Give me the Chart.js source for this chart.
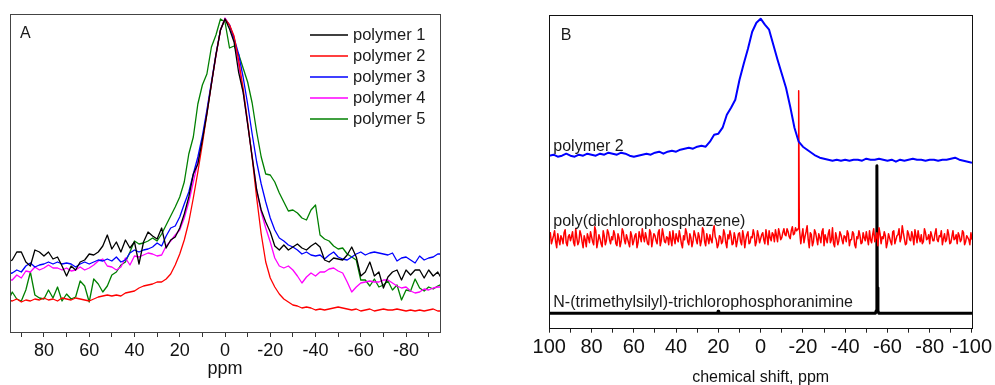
<!DOCTYPE html>
<html>
<head>
<meta charset="utf-8">
<script src="https://cdn.jsdelivr.net/npm/chart.js@4"></script>
<style>
  html, body { margin: 0; padding: 0; background: #fff; overflow: hidden; }
  body { width: 995px; height: 385px; position: relative; }
  #chartA { position: absolute; left: 0; top: 0; }
  #chartB { position: absolute; left: 520px; top: 0; }
</style>
</head>
<body>
<canvas id="chartA" width="460" height="385"></canvas>
<canvas id="chartB" width="475" height="395"></canvas>
<script>
// ---- panel A : 31P spectra of the five polymers (intensity) ----
const ppmA = [96, 94, 92, 90, 88, 86, 84, 82, 80, 78, 76, 74, 72, 70, 68, 66, 64, 62, 60, 58,
  56, 54, 52, 50, 48, 46, 44, 42, 40, 38, 36, 34, 32, 30, 28, 26, 24, 22, 20, 18,
  16, 14, 12, 10, 8, 6, 4, 2, 0, -2, -4, -6, -8, -10, -12, -14, -16, -18, -20, -22,
  -24, -26, -28, -30, -32, -34, -36, -38, -40, -42, -44, -46, -48, -50, -52, -54, -56, -58, -60, -62,
  -64, -66, -68, -70, -72, -74, -76, -78, -80, -82, -84, -86, -88, -90, -92, -94, -96]

const polymer1 = [70, 72, 80, 80, 70, 66, 82, 80, 76, 80, 73, 75, 66, 56, 66, 62, 70, 72, 78, 77,
  80, 86, 97, 83, 90, 80, 92, 84, 90, 68, 90, 100, 96, 93, 104, 84, 92, 95, 104, 118,
  135, 158, 168, 192, 218, 248, 277, 302, 313, 303, 290, 260, 240, 208, 175, 142, 122, 110, 100, 86,
  82, 87, 82, 85, 88, 84, 82, 86, 89, 85, 72, 70, 74, 73, 72, 77, 85, 75, 56, 60,
  70, 56, 60, 44, 55, 60, 62, 52, 62, 57, 62, 62, 54, 62, 56, 60, 52]

const polymer2 = [32, 31, 33, 30, 32, 31, 33, 32, 34, 32, 33, 31, 34, 33, 32, 34, 33, 32, 31, 33,
  35, 36, 37, 36, 37, 36, 39, 40, 41, 44, 46, 47, 48, 50, 50, 53, 58, 67, 78, 92,
  110, 134, 160, 188, 218, 248, 277, 302, 313, 307, 296, 272, 244, 210, 174, 134, 98, 70, 54, 45,
  38, 33, 30, 27, 26, 24, 25, 24, 22, 23, 22, 23, 24, 25, 24, 23, 22, 23, 21, 22,
  23, 21, 22, 23, 22, 22, 23, 22, 21, 22, 21, 22, 21, 22, 23, 21, 21]

const polymer3 = [58, 59, 62, 60, 66, 69, 65, 67, 68, 70, 68, 70, 68, 69, 68, 65, 68, 70, 68, 70,
  72, 71, 73, 71, 75, 70, 72, 79, 82, 80, 82, 83, 85, 89, 86, 96, 104, 106, 115, 128,
  140, 158, 175, 196, 222, 250, 278, 302, 313, 307, 294, 278, 255, 228, 198, 170, 148, 130, 114, 102,
  94, 91, 87, 85, 82, 78, 80, 77, 76, 77, 73, 77, 80, 75, 73, 72, 75, 78, 80, 77,
  79, 80, 79, 78, 77, 79, 71, 74, 75, 72, 69, 76, 72, 74, 75, 78, 78]

const polymer4 = [52, 52, 57, 54, 61, 60, 65, 62, 64, 67, 64, 64, 62, 64, 61, 62, 65, 62, 64, 67,
  71, 73, 66, 65, 62, 65, 74, 67, 76, 75, 77, 79, 78, 76, 77, 86, 91, 97, 102, 114,
  130, 150, 170, 192, 220, 248, 276, 302, 314, 307, 292, 268, 240, 208, 176, 142, 120, 104, 90, 74,
  66, 64, 66, 62, 56, 49, 55, 59, 56, 60, 60, 63, 64, 61, 59, 50, 40, 45, 49, 50,
  51, 50, 50, 52, 52, 49, 46, 44, 45, 41, 39, 40, 43, 42, 44, 45, 45]

const polymer5 = [30, 40, 33, 31, 42, 60, 37, 34, 33, 42, 34, 45, 31, 38, 33, 35, 51, 46, 30, 53,
  48, 40, 46, 57, 60, 67, 70, 80, 91, 88, 89, 91, 94, 91, 98, 107, 116, 125, 135, 150,
  178, 195, 228, 247, 258, 285, 297, 313, 310, 284, 286, 278, 264, 250, 229, 200, 175, 158, 157, 150,
  139, 130, 121, 122, 119, 114, 112, 122, 127, 97, 93, 91, 86, 83, 84, 78, 75, 72, 52, 52,
  46, 53, 45, 47, 51, 42, 47, 32, 42, 41, 53, 44, 41, 45, 43, 46, 48]

const namesA = ['polymer 1', 'polymer 2', 'polymer 3', 'polymer 4', 'polymer 5']
const colorsA = ['#000000', '#ff0000', '#0000ff', '#ff00ff', '#008000']
const valuesA = [polymer1, polymer2, polymer3, polymer4, polymer5]
const ticksA = [90, 80, 70, 60, 50, 40, 30, 20, 10, 0, -10, -20, -30, -40, -50, -60, -70, -80, -90]

// ---- panel B : reference compounds ----
// polymer 2, every 2 ppm from 100 to -100
const polymer2B = [172, 173, 171, 172, 174, 172, 171, 173, 172, 174, 173, 172, 174, 173, 175, 174, 173, 175, 174, 172,
  171, 172, 173, 174, 173, 175, 176, 174, 176, 177, 176, 178, 179, 180, 179, 181, 182, 181, 186, 193,
  194, 200, 213, 220, 228, 248, 264, 279, 296, 305, 309, 303, 298, 283, 268, 254, 240, 221, 200, 186,
  181, 178, 175, 172, 170, 169, 168, 167, 168, 167, 168, 167, 168, 168, 167, 169, 168, 168, 169, 168,
  167, 168, 166, 168, 167, 168, 169, 168, 168, 167, 168, 168, 167, 168, 168, 169, 170, 168, 167, 166,
  165]
// poly(dichlorophosphazene), whole ppm from 100 to -100
const pdcpB = [90, 84, 92, 86, 94, 83, 89, 95, 85, 91,
  87, 96, 82, 90, 86, 93, 80, 88, 94, 85,
  91, 83, 97, 86, 89, 81, 92, 87, 95, 84,
  88, 93, 82, 90, 86, 96, 84, 89, 81, 92,
  87, 94, 85, 91, 99, 86, 90, 83, 95, 88,
  92, 84, 98, 87, 93, 85, 90, 96, 82, 89,
  94, 86, 91, 80, 88, 95, 83, 90, 86, 93,
  84, 91, 87, 97, 82, 89, 93, 85, 102, 88,
  83, 91, 86, 94, 80, 89, 92, 84, 90, 87,
  95, 83, 91, 88, 96, 85, 90, 93, 86, 92,
  89, 95, 84, 91, 97, 87, 93, 98, 86, 94,
  90, 99, 92, 96, 89, 101, 94, 97, 96, 84,
  99, 91, 102, 80, 93, 86, 95, 83, 90, 96,
  82, 89, 94, 85, 100, 81, 90, 87, 93, 84,
  91, 97, 82, 88, 94, 80, 89, 92, 85, 90,
  96, 83, 88, 93, 86, 95, 100, 84, 89, 92,
  85, 90, 83, 97, 88, 93, 86, 102, 89, 84,
  94, 87, 91, 98, 85, 90, 93, 86, 95, 89,
  84, 92, 87, 99, 86, 91, 83, 94, 88, 93,
  85, 97, 89, 84, 92, 88, 95, 86, 90, 83,
  88]
// poly(dichlorophosphazene), half ppm from 99.5 to -99.5
const pdcpHalfB = [95, 88, 97, 80, 88, 92, 84, 98, 82, 93,
  91, 85, 99, 83, 97, 86, 92, 81, 90, 96,
  86, 101, 80, 93, 84, 97, 83, 98, 88, 91,
  97, 84, 94, 81, 99, 88, 93, 85, 96, 83,
  92, 80, 96, 86, 91, 95, 84, 98, 81, 94,
  87, 95, 82, 99, 86, 91, 83, 88, 97, 84,
  89, 97, 84, 92, 99, 86, 94, 81, 97, 88,
  95, 82, 100, 86, 94, 84, 88, 97, 91, 80,
  92, 84, 98, 85, 93, 97, 83, 95, 81, 94,
  86, 97, 80, 93, 84, 91, 98, 82, 97, 85,
  93, 88, 98, 83, 90, 95, 86, 92, 99, 88,
  95, 93, 99, 91, 97, 93, 100, 95, 88, 92,
  85, 96, 88, 95, 82, 98, 89, 94, 85, 99,
  93, 85, 98, 88, 84, 95, 83, 96, 88, 92,
  86, 94, 88, 96, 83, 91, 97, 84, 95, 87,
  89, 97, 85, 99, 90, 82, 94, 91, 96, 80,
  94, 86, 96, 84, 92, 99, 90, 95, 83, 97,
  88, 96, 83, 92, 97, 86, 84, 99, 88, 93,
  96, 87, 94, 88, 92, 97, 89, 86, 98, 84,
  91, 88, 93, 95, 86, 97, 83, 92, 88, 95]
const pdcpPeakPpm = [-17.7, -17.95, -18.05, -18.3]
const pdcpPeakVal = [99, 237, 237, 100]
// N-(trimethylsilyl)-trichlorophosphoranimine
const silylPpm = [100, 20.4, 20.1, 19.8, -54.3, -54.7, -54.95, -55.05, -55.2, -55.5, -55.9, -100]
const silylVal = [14.4, 14.4, 16.5, 14.4, 14.4, 17, 40, 162, 40, 17, 14.4, 14.4]
const ticksB = [100, 90, 80, 70, 60, 50, 40, 30, 20, 10, 0, -10, -20, -30, -40, -50, -60, -70, -80, -90, -100]

const FONT = "'Liberation Sans', Arial, sans-serif"

// caja alrededor del area y textos sueltos
const framePlugin = {
  id: 'frame',
  afterDraw(chart, args, opts) {
    const {ctx, chartArea: a} = chart
    ctx.save()
    ctx.strokeStyle = opts.color
    ctx.lineWidth = 1
    ctx.strokeRect(Math.round(a.left) + 0.5, Math.round(a.top) + 0.5, Math.round(a.right - a.left), Math.round(a.bottom - a.top))
    ctx.fillStyle = '#1a1a1a'
    opts.texts.forEach(t => {
      ctx.font = t.font
      ctx.textBaseline = t.baseline
      ctx.fillText(t.text, t.x, t.y)
    })
    if (opts.legend) {
      opts.legend.names.forEach((name, i) => {
        const y = opts.legend.y0 + i * opts.legend.dy
        ctx.strokeStyle = opts.legend.colors[i]
        ctx.lineWidth = 1.3
        ctx.beginPath()
        ctx.moveTo(opts.legend.x0, y)
        ctx.lineTo(opts.legend.x1, y)
        ctx.stroke()
        ctx.font = opts.legend.font
        ctx.textBaseline = 'middle'
        ctx.fillStyle = '#1a1a1a'
        ctx.fillText(name, opts.legend.x1 + 5, y)
      })
    }
    ctx.restore()
  }
}

const datasetsA = valuesA.map((vals, i) => ({
  label: namesA[i],
  data: vals.map((v, j) => ({x: ppmA[j], y: v})),
  borderColor: colorsA[i],
  borderWidth: 1.3,
  borderJoinStyle: 'round',
  pointRadius: 0,
  tension: 0,
  fill: false
}))

new Chart('chartA', {
  type: 'line',
  data: {datasets: datasetsA},
  options: {
    responsive: false,
    animation: false,
    events: [],
    layout: {padding: {left: 10, right: 20, top: 14, bottom: 0}},
    plugins: {
      legend: {display: false},
      tooltip: {enabled: false},
      frame: {
        color: '#444',
        texts: [{text: 'A', x: 20, y: 34, font: `16px ${FONT}`, baseline: 'middle'}],
        legend: {names: namesA, colors: colorsA, x0: 310, x1: 348, y0: 35, dy: 21, font: `16.5px ${FONT}`}
      }
    },
    scales: {
      x: {
        type: 'linear', min: -95, max: 95, reverse: true,
        afterBuildTicks: s => { s.ticks = ticksA.map(v => ({value: v})) },
        afterFit: s => { s.height = 53 },
        ticks: {
          autoSkip: false, maxRotation: 0, padding: 3,
          color: '#111', font: {family: FONT, size: 18},
          callback: v => v % 20 === 0 ? String(v) : ''
        },
        grid: {drawOnChartArea: false, tickLength: 5, color: '#333'},
        border: {display: false},
        title: {display: true, text: 'ppm', color: '#111', font: {family: FONT, size: 18}, padding: {top: 0, bottom: 5}}
      },
      y: {display: false, min: 0, max: 318}
    }
  },
  plugins: [framePlugin]
})

// datos panel B
const blueB = polymer2B.map((v, i) => ({x: 100 - 2 * i, y: v}))
let redB = pdcpB.map((v, i) => ({x: 100 - i, y: v}))
pdcpHalfB.forEach((v, i) => redB.push({x: 99.5 - i, y: v}))
redB = redB.filter(p => Math.abs(p.x + 18) > 0.5)
pdcpPeakPpm.forEach((p, i) => redB.push({x: p, y: pdcpPeakVal[i]}))
redB.sort((a, b) => b.x - a.x)
const blackB = silylPpm.map((p, i) => ({x: p, y: silylVal[i]}))

new Chart('chartB', {
  type: 'line',
  data: {
    datasets: [
      {label: 'polymer 2', data: blueB, borderColor: '#0000ff', borderWidth: 2, borderJoinStyle: 'round', pointRadius: 0, tension: 0},
      {label: 'poly(dichlorophosphazene)', data: redB, borderColor: '#ff0000', borderWidth: 1.5, borderJoinStyle: 'round', pointRadius: 0, tension: 0},
      {label: 'N-(trimethylsilyl)-trichlorophosphoranimine', data: blackB, borderColor: '#000000', borderWidth: 3, borderJoinStyle: 'round', pointRadius: 0, tension: 0}
    ]
  },
  options: {
    responsive: false,
    animation: false,
    events: [],
    layout: {padding: {left: 29.3, right: 20, top: 15, bottom: 0}},
    plugins: {
      legend: {display: false},
      tooltip: {enabled: false},
      frame: {
        color: '#111',
        texts: [
          {text: 'B', x: 40.7, y: 36, font: `16px ${FONT}`, baseline: 'middle'},
          {text: 'polymer 2', x: 33.3, y: 150.7, font: `16px ${FONT}`, baseline: 'alphabetic'},
          {text: 'poly(dichlorophosphazene)', x: 33.3, y: 225.7, font: `16px ${FONT}`, baseline: 'alphabetic'},
          {text: 'N-(trimethylsilyl)-trichlorophosphoranimine', x: 33.3, y: 306.7, font: `16px ${FONT}`, baseline: 'alphabetic'}
        ]
      }
    },
    scales: {
      x: {
        type: 'linear', min: -100, max: 100, reverse: true,
        afterBuildTicks: s => { s.ticks = ticksB.map(v => ({value: v})) },
        afterFit: s => { s.height = 67.3 },
        ticks: {
          autoSkip: false, maxRotation: 0, padding: 3,
          color: '#111', font: {family: FONT, size: 20},
          callback: v => v % 20 === 0 ? String(v) : ''
        },
        grid: {drawOnChartArea: false, tickLength: 5, color: '#222'},
        border: {display: false},
        title: {display: true, text: 'chemical shift, ppm', color: '#111', font: {family: FONT, size: 16}, padding: {top: 0, bottom: 8}}
      },
      y: {display: false, min: 0, max: 312.7}
    }
  },
  plugins: [framePlugin]
})
</script>
</body>
</html>
